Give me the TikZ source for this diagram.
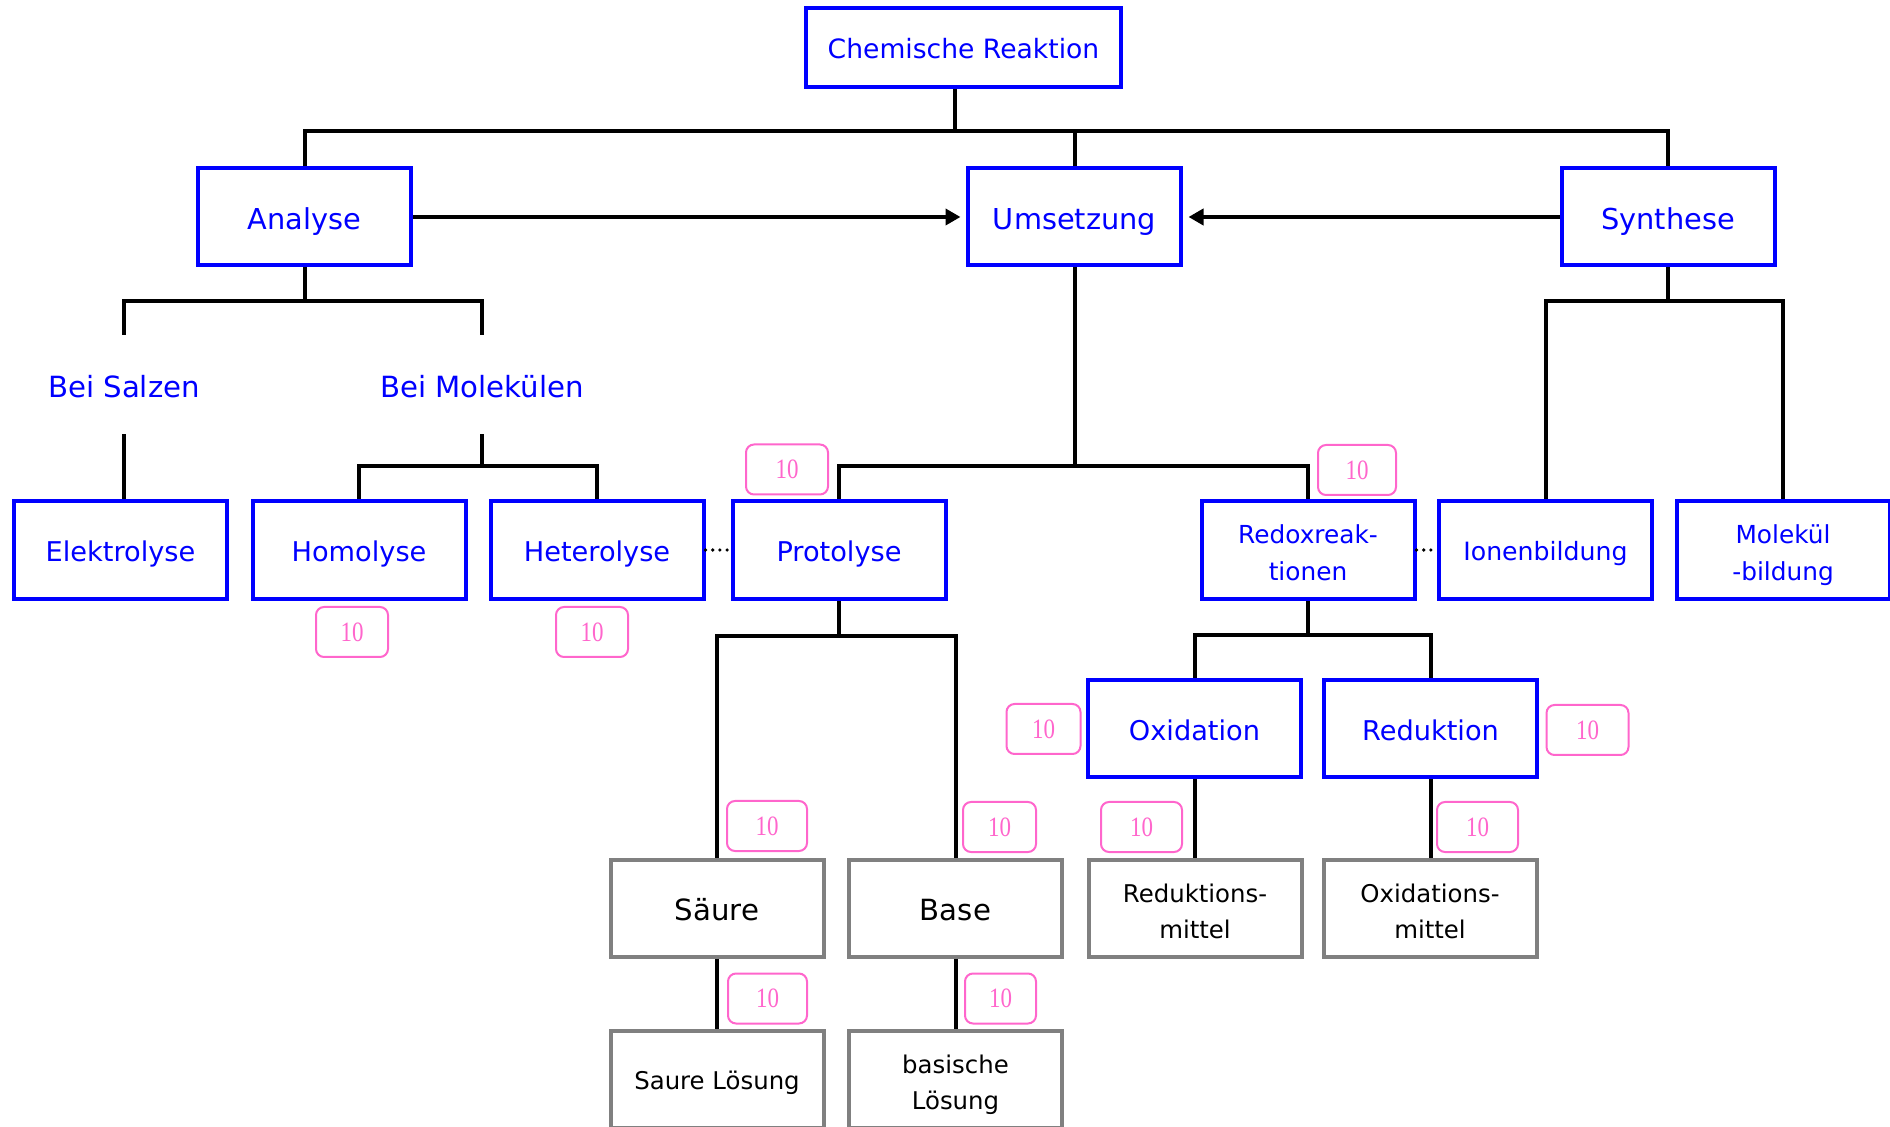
\documentclass[tikz,border=0pt]{standalone}
\usepackage{fontspec}
\usepackage{graphicx}
\setmainfont{DejaVu Sans}
\newfontfamily\badgeserif{Liberation Serif}
\usetikzlibrary{arrows.meta}
\definecolor{pblue}{RGB}{0,0,255}
\definecolor{pgrey}{RGB}{128,128,128}
\definecolor{ppink}{RGB}{255,102,204}
\newcommand{\fsz}[2]{\fontsize{#1}{#2}\selectfont}
\newcommand{\ten}{\scalebox{0.82}[1]{10}}
% struts that fix the vertical placement of box texts
\newcommand{\sstrut}{\rule[-0.24em]{0pt}{1.34em}}
\newcommand{\fstrut}{\rule{0pt}{1.2em}}
\newcommand{\lstrut}{\rule[-0.24em]{0pt}{0.24em}}

\begin{document}
\begin{tikzpicture}[x=0.5pt,y=-0.5pt,
  bluebox/.style={draw=pblue, line width=2pt, text=pblue, fill=white,
    minimum width=106.5pt, minimum height=48.5pt, inner sep=0pt, align=center},
  greybox/.style={draw=pgrey, line width=2pt, text=black, fill=white,
    minimum width=106.5pt, minimum height=48.5pt, inner sep=0pt, align=center},
  label/.style={text=pblue, inner sep=0pt, minimum height=49.5pt, font=\fsz{14.6}{18}},
  badge/.style={draw=ppink, line width=1pt, rounded corners=4pt, text=ppink,
    inner sep=0pt, minimum height=25pt, font=\badgeserif\fsz{14}{14}},
  link/.style={line width=2pt, black},
  flow/.style={line width=2pt, black, -{Triangle[length=7.5pt,width=8pt]}, shorten >=2.75pt},
  dots/.style={line width=1.8pt, black, dash pattern=on 0pt off 3.6pt, line cap=round},
  lvla/.style={font=\fsz{14.4}{18}},
  lvlb/.style={font=\fsz{13.6}{18}},
  twoline/.style={font=\fsz{12.4}{18.5}},
  greyline/.style={font=\fsz{12.2}{18}}
]
\useasboundingbox (0,0) rectangle (1890,1127);

% top of the tree
\node[bluebox, minimum width=157.5pt, minimum height=39.5pt, font=\fsz{13.3}{16}] (chem) at (963.5,47.5) {\sstrut Chemische Reaktion};

\node[bluebox, lvla] (ana) at (304.5,217) {\sstrut Analyse};
\node[bluebox, lvla] (ums) at (1074.5,217) {\sstrut Umsetzung};
\node[bluebox, lvla] (syn) at (1668,217) {\sstrut Synthese};

% analysis branch labels
\node[label] (salz) at (124,384.5) {\sstrut Bei Salzen};
\node[label] (molek) at (482,384.5) {\sstrut Bei Molekülen};

% second row
\node[bluebox, lvlb, minimum height=49pt] (elek)   at (120.5,550) {\sstrut Elektrolyse};
\node[bluebox, lvlb, minimum height=49pt] (homo)   at (359,550)   {\sstrut Homolyse};
\node[bluebox, lvlb, minimum height=49pt] (hetero) at (597,550)   {\sstrut Heterolyse};
\node[bluebox, lvlb, minimum height=49pt] (proto)  at (839,550)   {\sstrut Protolyse};
\node[bluebox, twoline, minimum height=49pt] (redox) at (1308,550) {\fstrut Redoxreak-\\tionen\lstrut};
\node[bluebox, font=\fsz{12.6}{18}, minimum height=49pt] (ionen) at (1545.5,550) {\sstrut Ionenbildung};
\node[bluebox, twoline, minimum height=49pt] (molbild) at (1783,550) {\fstrut Molekül\\-bildung\lstrut};

% redox sub-branch
\node[bluebox, lvlb] (oxi) at (1194.5,728.5) {\sstrut Oxidation};
\node[bluebox, lvlb] (red) at (1430.5,728.5) {\sstrut Reduktion};

% grey result boxes
\node[greybox, font=\fsz{14.6}{18}] (saeure) at (717,908)    {\sstrut Säure};
\node[greybox, font=\fsz{14.6}{18}] (base)   at (955.5,908)  {\sstrut Base};
\node[greybox, greyline] (redmit) at (1195,908.5) {\fstrut Reduktions-\\mittel\lstrut};
\node[greybox, greyline] (oxmit)  at (1430,908.5) {\fstrut Oxidations-\\mittel\lstrut};
\node[greybox, greyline] (sauer)  at (717,1079.5)   {\sstrut Saure Lösung};
\node[greybox, greyline] (basl)   at (955.5,1079.5) {\fstrut basische\\Lösung\lstrut};

% junction heights of the bars
\coordinate (jtop) at (0,131);
\coordinate (jana) at (0,301.5);
\coordinate (jmol) at (0,466);
\coordinate (jums) at (0,466);
\coordinate (jsyn) at (0,301);
\coordinate (jpro) at (0,636.5);
\coordinate (jred) at (0,635);

% connectors
\draw[link] ([xshift=-4.25pt]chem.south) -- ([xshift=-4.25pt]chem.south |- jtop);
\draw[link] (ana.north) |- (jtop -| syn.north) -- (syn.north);
\draw[link] (ums.north) -- (ums.north |- jtop);

\draw[flow] (ana.east) -- (ums.west);
\draw[flow] (syn.west) -- (ums.east);

\draw[link] (ana.south) -- (ana.south |- jana);
\draw[link] (salz.north) |- (jana -| molek.north) -- (molek.north);
\draw[link] (salz.south) -- (salz.south |- elek.north);
\draw[link] (molek.south) -- (molek.south |- jmol);
\draw[link] (homo.north) |- (jmol -| hetero.north) -- (hetero.north);

\draw[link] (ums.south) -- (ums.south |- jums);
\draw[link] (proto.north) |- (jums -| redox.north) -- (redox.north);

\draw[link] (syn.south) -- (syn.south |- jsyn);
\draw[link] (ionen.north) |- (jsyn -| molbild.north) -- (molbild.north);

\draw[link] (proto.south) -- (proto.south |- jpro);
\draw[link] (saeure.north) |- (jpro -| base.north) -- (base.north);
\draw[link] (saeure.south) -- (sauer.north);
\draw[link] (base.south) -- (basl.north);

\draw[link] (redox.south) -- (redox.south |- jred);
\draw[link] (oxi.north) |- (jred -| red.north) -- (red.north);
\draw[link] (oxi.south) -- (redmit.north -| oxi.south);
\draw[link] (red.south) -- (oxmit.north -| red.south);

\draw[dots] (hetero.east) -- (proto.west);
\draw[dots] (redox.east) -- (ionen.west);

% score badges
\node[badge, minimum width=41pt]   (b1)  at (787,469.5)    {\ten};
\node[badge, minimum width=39pt]   (b2)  at (1357,470)     {\ten};
\node[badge, minimum width=36pt]   (b3)  at (352,632)      {\ten};
\node[badge, minimum width=36pt]   (b4)  at (592,632)      {\ten};
\node[badge, minimum width=37pt]   (b5)  at (1043.5,729)   {\ten};
\node[badge, minimum width=41pt]   (b6)  at (1587.5,730)   {\ten};
\node[badge, minimum width=40pt]   (b7)  at (767,826)      {\ten};
\node[badge, minimum width=36.5pt] (b8)  at (999.5,827)    {\ten};
\node[badge, minimum width=40.5pt] (b9)  at (1141.5,827)   {\ten};
\node[badge, minimum width=40.5pt] (b10) at (1477.5,827)   {\ten};
\node[badge, minimum width=39.5pt] (b11) at (767.5,998.5)  {\ten};
\node[badge, minimum width=35.5pt] (b12) at (1000.5,998.5) {\ten};
\end{tikzpicture}
\end{document}
